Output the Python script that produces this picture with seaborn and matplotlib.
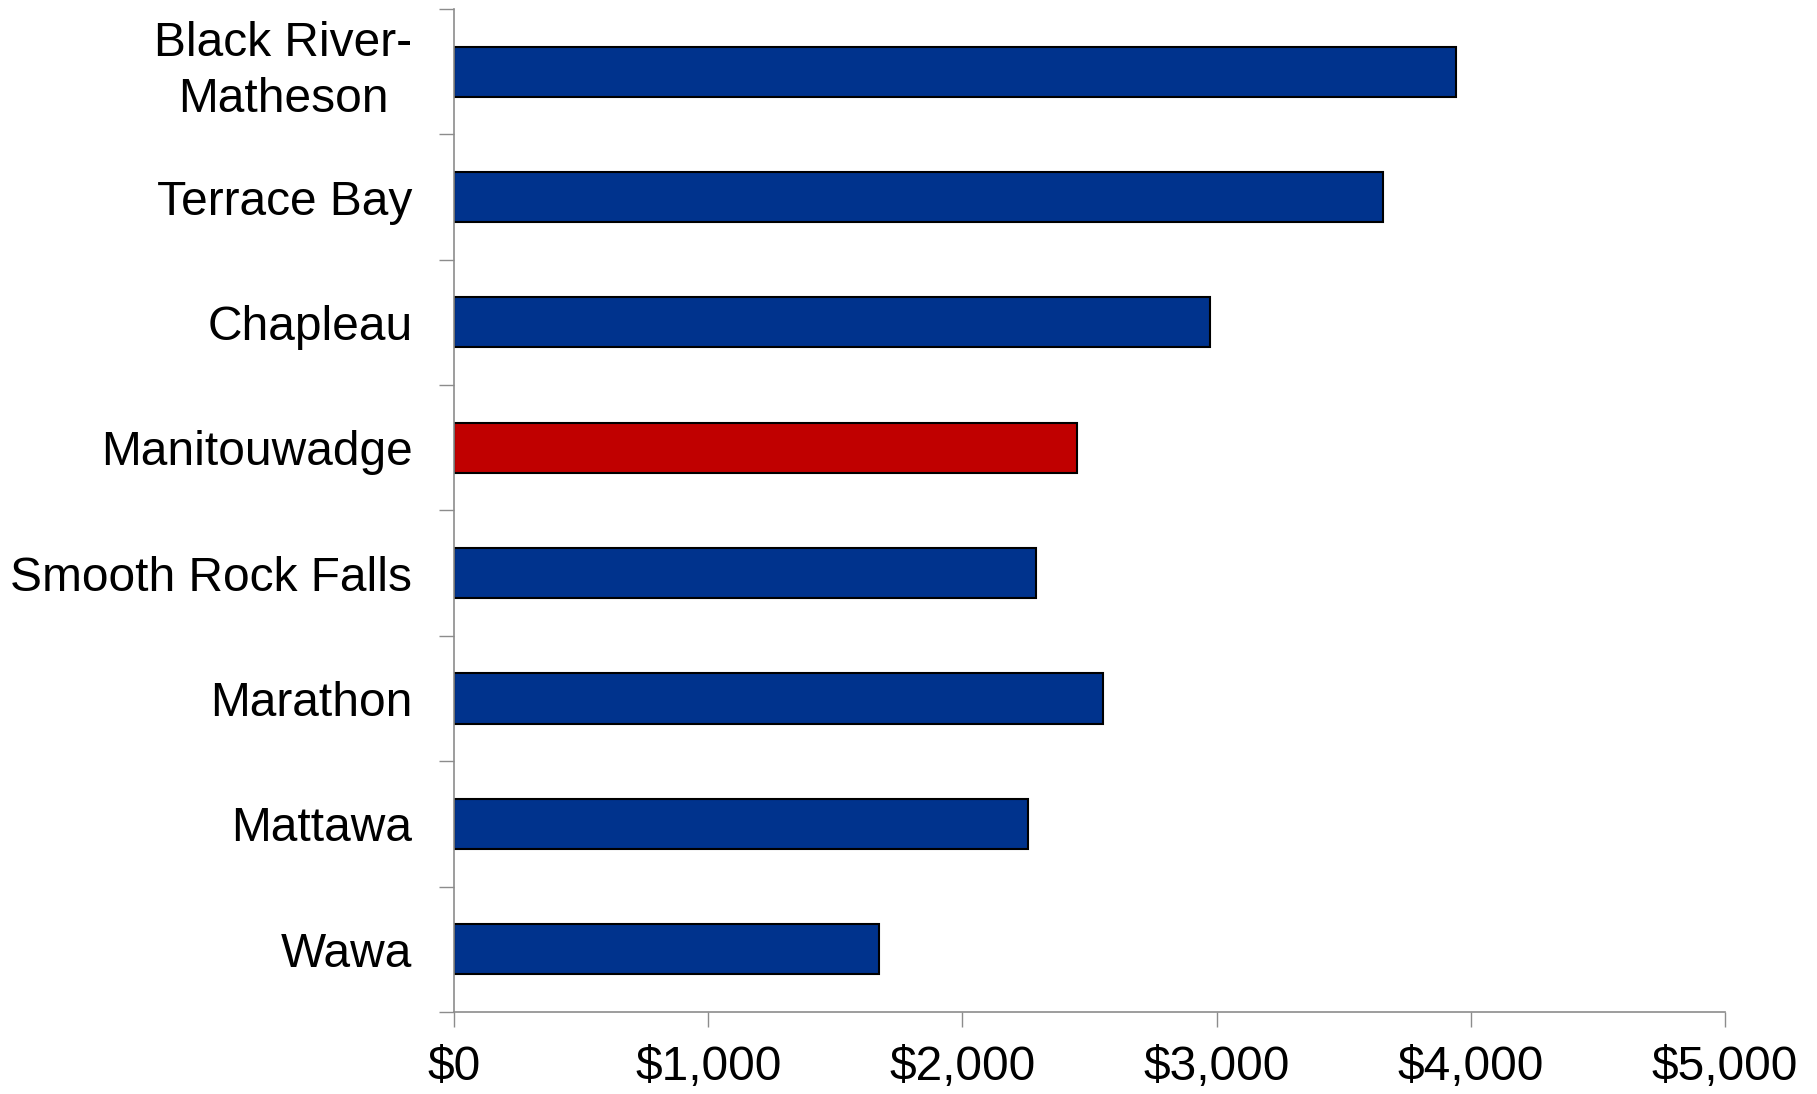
import matplotlib
matplotlib.use("Agg")
import matplotlib.pyplot as plt
import seaborn as sns
import pandas as pd
from matplotlib.ticker import FixedLocator, FuncFormatter

# Per-capita figures by community
communities = ["Black River-\nMatheson", "Terrace Bay", "Chapleau", "Manitouwadge",
               "Smooth Rock Falls", "Marathon", "Mattawa", "Wawa"]
values = [3942, 3653, 2974, 2449, 2290, 2553, 2258, 1672]
highlight = "Manitouwadge"

BLUE = "#00338D"
RED = "#C00000"
AXIS_GREY = "#8C8C8C"

df = pd.DataFrame({"community": communities, "value": values})
palette = {c: (RED if c == highlight else BLUE) for c in communities}

sns.set_theme(style="white")
plt.rcParams["font.family"] = ["Liberation Sans", "DejaVu Sans"]

fig = plt.figure(figsize=(18.17, 10.94), dpi=100)
ax = fig.add_axes([0.2499, 0.075, 0.6995, 0.9168])

sns.barplot(data=df, y="community", x="value", hue="community", palette=palette,
            orient="h", width=0.4, edgecolor="black", linewidth=1.5,
            legend=False, ax=ax, saturation=1)

ax.set_xlim(0, 5000)
ax.set_ylim(len(communities) - 0.5, -0.5)
ax.set_xlabel("")
ax.set_ylabel("")

# x axis: dollar ticks
ax.set_xticks([0, 1000, 2000, 3000, 4000, 5000])
ax.xaxis.set_major_formatter(FuncFormatter(lambda v, _: f"${v:,.0f}"))
ax.tick_params(axis="x", which="major", direction="out", length=11, width=1,
               color=AXIS_GREY, labelsize=34.5, labelcolor="black", pad=13, bottom=True)

# y axis: labels on categories, tick marks on category boundaries
ax.set_yticks(range(len(communities)))
ax.set_yticklabels(communities, multialignment="center")
for lbl in ax.get_yticklabels():
    if "\n" in lbl.get_text():
        lbl.set_verticalalignment("center")
        lbl.set_linespacing(1.32)
ax.yaxis.set_minor_locator(FixedLocator([i - 0.5 for i in range(len(communities) + 1)]))
ax.tick_params(axis="y", which="major", length=0, labelsize=34.5, labelcolor="black", pad=30)
ax.tick_params(axis="y", which="minor", direction="out", length=11, width=1,
               color=AXIS_GREY, left=True)

for side in ["top", "right"]:
    ax.spines[side].set_visible(False)
for side in ["left", "bottom"]:
    ax.spines[side].set_color(AXIS_GREY)
    ax.spines[side].set_linewidth(1.2)

fig.savefig("out.png", dpi=100, facecolor="white")
